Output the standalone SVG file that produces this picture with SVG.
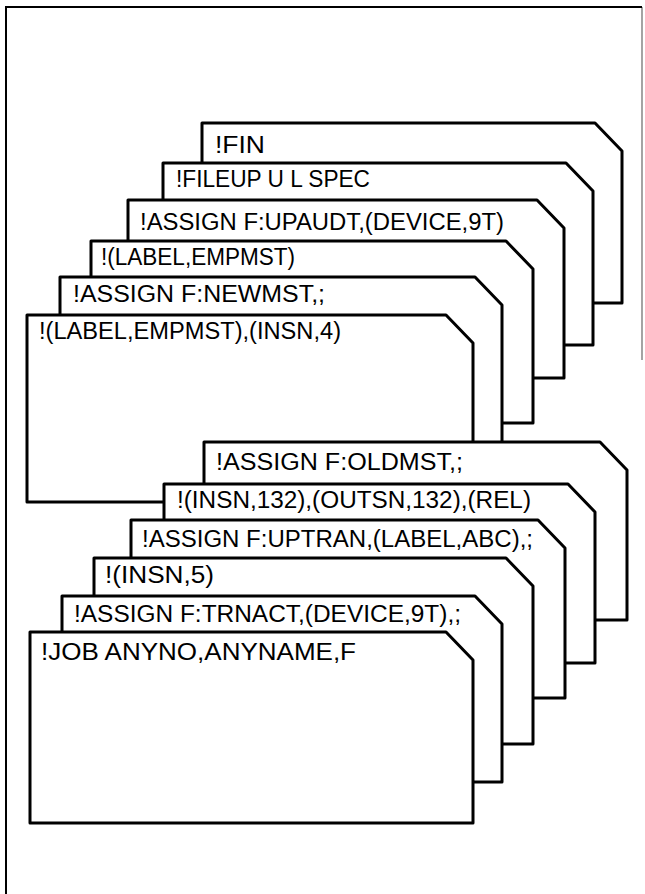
<svg xmlns="http://www.w3.org/2000/svg" width="645" height="894" viewBox="0 0 645 894">
<style>
.card{fill:#fff;stroke:#000;stroke-width:3;stroke-linejoin:round}
.frame{fill:none;stroke:#000;stroke-width:2}
text{font-family:"Liberation Sans",Arial,sans-serif;font-size:23px;fill:#000}
</style>
<rect width="645" height="894" fill="#fff"/>
<g id="frame">
<path class="frame" d="M6,894 V7 H642"/>
<path d="M642,7 V360" fill="none" stroke="#000" stroke-width="1.2" stroke-opacity="0.6"/>
</g>
<g id="card-fin"><polygon class="card" points="202,303 202,123 595,123 622,151 622,303"/><text x="215" y="153" textLength="50" lengthAdjust="spacingAndGlyphs">!FIN</text></g>
<g id="card-fileup"><polygon class="card" points="163,345 163,163 566,163 593,191 593,345"/><text x="176" y="187" textLength="194" lengthAdjust="spacingAndGlyphs">!FILEUP U L SPEC</text></g>
<g id="card-upaudt"><polygon class="card" points="128,378 128,200 537,200 564,228 564,378"/><text x="140" y="230" textLength="364" lengthAdjust="spacingAndGlyphs">!ASSIGN F:UPAUDT,(DEVICE,9T)</text></g>
<g id="card-label"><polygon class="card" points="91,423 91,241 506,241 533,269 533,423"/><text x="101" y="265" textLength="194" lengthAdjust="spacingAndGlyphs">!(LABEL,EMPMST)</text></g>
<g id="card-newmst"><polygon class="card" points="60,470 60,277 475,277 502,305 502,470"/><text x="73" y="302" textLength="252" lengthAdjust="spacingAndGlyphs">!ASSIGN F:NEWMST,;</text></g>
<g id="card-insn4"><polygon class="card" points="27,502 27,315 446,315 473,343 473,502"/><text x="39" y="339" textLength="302" lengthAdjust="spacingAndGlyphs">!(LABEL,EMPMST),(INSN,4)</text></g>
<g id="card-oldmst"><polygon class="card" points="204,620 204,442 600,442 627,470 627,620"/><text x="216" y="470" textLength="247" lengthAdjust="spacingAndGlyphs">!ASSIGN F:OLDMST,;</text></g>
<g id="card-insn132"><polygon class="card" points="164,663 164,484 568,484 595,512 595,663"/><text x="177" y="508" textLength="354" lengthAdjust="spacingAndGlyphs">!(INSN,132),(OUTSN,132),(REL)</text></g>
<g id="card-uptran"><polygon class="card" points="131,698 131,520 538,520 565,548 565,698"/><text x="142" y="547" textLength="391" lengthAdjust="spacingAndGlyphs">!ASSIGN F:UPTRAN,(LABEL,ABC),;</text></g>
<g id="card-insn5"><polygon class="card" points="94,744 94,558 506,558 533,586 533,744"/><text x="105" y="583" textLength="109" lengthAdjust="spacingAndGlyphs">!(INSN,5)</text></g>
<g id="card-trnact"><polygon class="card" points="62,782 62,596 475,596 502,624 502,782"/><text x="74" y="622" textLength="387" lengthAdjust="spacingAndGlyphs">!ASSIGN F:TRNACT,(DEVICE,9T),;</text></g>
<g id="card-job"><polygon class="card" points="30,823 30,632 446,632 473,660 473,823"/><text x="41" y="660" textLength="315" lengthAdjust="spacingAndGlyphs">!JOB ANYNO,ANYNAME,F</text></g>
<g id="connectors"></g>
</svg>
